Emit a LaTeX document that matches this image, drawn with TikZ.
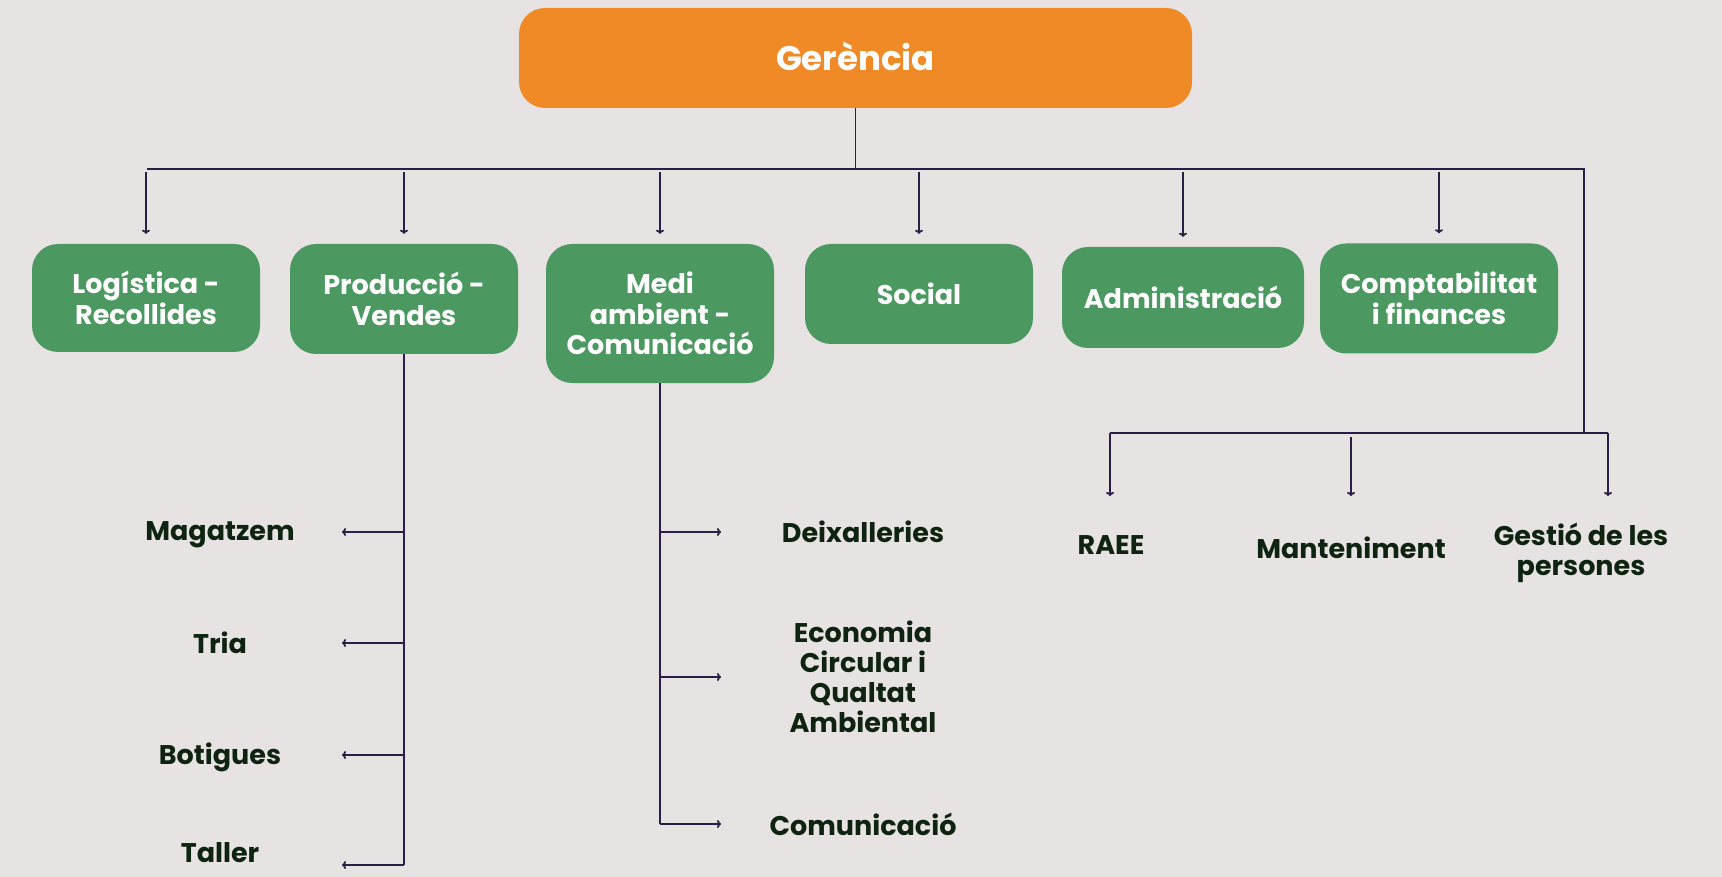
\documentclass[tikz,border=0pt]{standalone}
\usepackage{fontspec}
\setmainfont{Poppins}
\usetikzlibrary{positioning, arrows.meta}
\definecolor{fons}{HTML}{E8E3E3}
\definecolor{taronja}{HTML}{F08A26}
\definecolor{verd}{HTML}{4B9961}
\definecolor{tinta}{HTML}{2B1F47}
\definecolor{lletra}{HTML}{0E2410}
\tikzset{
    direccio/.style={ % Top box
    rounded corners=26pt,
    fill=taronja,
    text=white,
    font=\fontsize{34}{38}\selectfont\bfseries},
    area/.style={ % Green boxes
    rounded corners=26pt,
    fill=verd,
    text=white,
    align=center,
    minimum width=228pt,
    font=\fontsize{27}{30.5}\selectfont\bfseries},
    seccio/.style={ % Plain labels under the boxes
    text=lletra,
    align=center,
    font=\fontsize{27}{30}\selectfont\bfseries},
    traç/.style={draw=tinta, line width=1.8pt},
    fletxa/.style={ % Connectors with a small head
    draw=tinta,
    line width=1.8pt,
    -{To[length=4pt,width=8pt]}}}

\begin{document}
\begin{tikzpicture}[x=1pt,y=-1pt]
    % Background
    \fill[fons] (0,0) rectangle (1722,877);
    \useasboundingbox (0,0) rectangle (1722,877);

    % Gerencia
    \node[direccio, minimum width=673pt, minimum height=100pt] (gerencia) at (855.5,58) {\raisebox{4pt}{Gerència}};

    % Areas
    \node[area, minimum height=108pt] (logistica) at (146,298) {Logística -\\Recollides};
    \node[area, minimum height=110pt] (produccio) at (404,299) {Producció -\\Vendes};
    \node[area, minimum height=139pt] (medi) at (660,313.5) {Medi\\ambient -\\Comunicació};
    \node[area, minimum height=100pt] (social) at (919,294) {Social};
    \node[area, minimum width=242pt, minimum height=101pt] (admin) at (1183,297.5) {Administració};
    \node[area, minimum width=238pt, minimum height=110pt] (compt) at (1439,298.5) {Comptabilitat\\i finances};

    % Top bus
    \coordinate (bus-e) at (147,169);
    \coordinate (bus-d) at (1584,169);
    \coordinate (baix) at (1584,433);
    \draw[traç] (gerencia.south) -- (gerencia.south |- bus-e);
    \draw[traç] (bus-e) -- (bus-d) -- (baix);
    \foreach \n in {logistica,produccio,medi,social,admin,compt}
        \draw[fletxa, shorten <=3pt, shorten >=10pt] (\n.north |- bus-e) -- (\n.north);

    % Produccio - Vendes
    \node[seccio] (magatzem) at (220,535) {Magatzem};
    \node[seccio] (tria) at (220,643) {Tria};
    \node[seccio] (botigues) at (220,757) {Botigues};
    \node[seccio] (taller) at (220,853) {Taller};
    \coordinate (fi-esq) at (342,0);
    \draw[traç] (produccio.south) -- ([yshift=-12pt]produccio.south |- taller);
    \foreach \n in {tria}
        \draw[fletxa] (produccio.south |- \n) -- (\n -| fi-esq);
    \draw[fletxa] ([yshift=3pt]produccio.south |- magatzem) -- ([yshift=3pt]magatzem -| fi-esq);
    \draw[fletxa] ([yshift=2pt]produccio.south |- botigues) -- ([yshift=2pt]botigues -| fi-esq);
    \draw[fletxa] ([yshift=-12pt]produccio.south |- taller) -- ([yshift=-12pt]taller -| fi-esq);

    % Medi ambient - Comunicacio
    \node[seccio] (deixalleries) at (863,532) {Deixalleries};
    \node[seccio] (economia) at (863,677) {Economia\\Circular i\\Qualtat\\Ambiental};
    \node[seccio] (comunicacio) at (863,824) {Comunicació};
    \coordinate (fi-dre) at (721,0);
    \draw[traç] (medi.south) -- (medi.south |- comunicacio);
    \foreach \n in {deixalleries,economia,comunicacio}
        \draw[fletxa] (medi.south |- \n) -- (\n -| fi-dre);

    % Lower bus
    \node[seccio] (raee) at (1111,545) {RAEE};
    \node[seccio] (manteniment) at (1351,548) {Manteniment};
    \node[seccio] (gestio) at (1581,553) {Gestió de les\\persones};
    \coordinate (b-esq) at (1110,433);
    \coordinate (b-dre) at (1608,433);
    \coordinate (puntes) at (0,496);
    \draw[traç] (b-esq) -- (b-dre);
    \draw[fletxa] (b-esq) -- (b-esq |- puntes);
    \draw[fletxa, shorten <=4pt] (manteniment |- baix) -- (manteniment |- puntes);
    \draw[fletxa] (b-dre) -- (b-dre |- puntes);
\end{tikzpicture}
\end{document}
